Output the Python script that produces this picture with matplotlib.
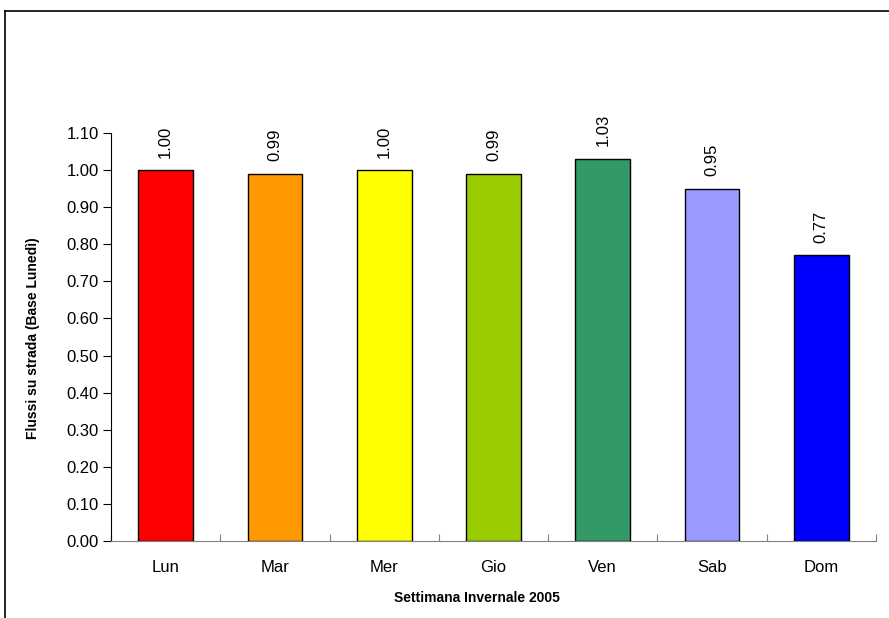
import matplotlib
matplotlib.use("Agg")
import matplotlib.pyplot as plt
from matplotlib.lines import Line2D

plt.rcParams['font.family'] = ['Liberation Sans', 'DejaVu Sans']

# dati
giorni = ["Lun", "Mar", "Mer", "Gio", "Ven", "Sab", "Dom"]
flussi = [1.00, 0.99, 1.00, 0.99, 1.03, 0.95, 0.77]
colori = ["#FF0000", "#FF9900", "#FFFF00", "#99CC00", "#339966", "#9999FF", "#0000FF"]
yticks = [0.0, 0.1, 0.2, 0.3, 0.4, 0.5, 0.6, 0.7, 0.8, 0.9, 1.0, 1.1]

W, H = 889, 618
fig = plt.figure(figsize=(W / 100, H / 100), dpi=100)

# cornice del grafico (visibili solo bordo superiore e sinistro)
fig.add_artist(Line2D([5 / W, 1.0], [1 - 11 / H, 1 - 11 / H], color="black", lw=1.2))
fig.add_artist(Line2D([5 / W, 5 / W], [0.0, 1 - 11 / H], color="black", lw=1.2))

ax = fig.add_axes([111 / W, 1 - 541 / H, (876 - 111) / W, (541 - 133) / H])

x = list(range(len(giorni)))
ax.bar(x, flussi, width=0.5, color=colori, edgecolor="black", linewidth=1.0)

for xi, v in zip(x, flussi):
    ax.annotate(f"{v:.2f}", (xi, v), xytext=(0, 9), textcoords="offset points",
                rotation=90, ha="center", va="bottom", fontsize=12)

ax.set_xlim(-0.5, len(giorni) - 0.5)
ax.set_ylim(0, 1.1)
ax.set_yticks(yticks)
ax.set_yticklabels([f"{t:.2f}" for t in yticks], fontsize=12)

# tick tra le categorie, etichette al centro
ax.set_xticks([i - 0.5 for i in range(len(giorni) + 1)])
ax.set_xticklabels([])
ax.set_xticks(x, minor=True)
ax.set_xticklabels(giorni, minor=True, fontsize=12)
ax.tick_params(axis="x", which="minor", length=0, pad=14)
ax.tick_params(axis="x", which="major", length=5, direction="in", color="#808080")
ax.tick_params(axis="y", length=6, direction="out", pad=3)

for s in ["top", "right"]:
    ax.spines[s].set_visible(False)
ax.spines["bottom"].set_color("#808080")
ax.spines["left"].set_color("black")

fig.text(33 / W, 1 - 338 / H, "Flussi su strada (Base Lunedì)", fontsize=10,
         fontweight="bold", rotation=90, ha="center", va="center")
fig.text(477 / W, 1 - 598 / H, "Settimana Invernale 2005", fontsize=10,
         fontweight="bold", ha="center", va="center")

fig.savefig("out.png", dpi=100)
